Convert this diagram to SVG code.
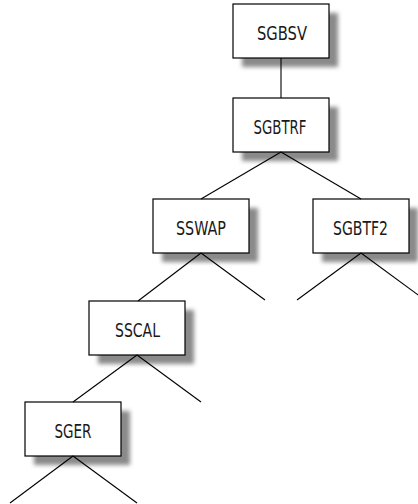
<svg xmlns="http://www.w3.org/2000/svg" width="418" height="504" viewBox="0 0 418 504">
<defs>
<filter id="sh" x="-20%" y="-20%" width="150%" height="160%">
<feGaussianBlur stdDeviation="2.2"/>
</filter>
</defs>
<style>
.shadow{fill:#8a8a8a;filter:url(#sh)}
.box{fill:#fff;stroke:#000;stroke-width:1.2}
.lbl{font-family:"DejaVu Sans Condensed","Liberation Sans Narrow","Liberation Sans",sans-serif;font-size:20px;fill:#1a1a1a;text-anchor:middle}
.edge{stroke:#000;stroke-width:1.1;fill:none}
</style>
<rect width="418" height="504" fill="#fff"/>
<g id="SGBSV"><rect class="shadow" x="242" y="13" width="96" height="54"/><rect class="box" x="233" y="4" width="96" height="54"/><text class="lbl" x="282" y="39.5" textLength="50" lengthAdjust="spacingAndGlyphs">SGBSV</text></g>
<g id="SGBTRF"><rect class="shadow" x="242" y="107" width="96" height="54"/><rect class="box" x="233" y="98" width="96" height="54"/><text class="lbl" x="280" y="133.5" textLength="53" lengthAdjust="spacingAndGlyphs">SGBTRF</text></g>
<g id="SSWAP"><rect class="shadow" x="162" y="208" width="96" height="54"/><rect class="box" x="153" y="199" width="96" height="54"/><text class="lbl" x="201" y="234.5" textLength="50" lengthAdjust="spacingAndGlyphs">SSWAP</text></g>
<g id="SGBTF2"><rect class="shadow" x="322" y="208" width="96" height="54"/><rect class="box" x="313" y="199" width="96" height="54"/><text class="lbl" x="360.5" y="234.5" textLength="55" lengthAdjust="spacingAndGlyphs">SGBTF2</text></g>
<g id="SSCAL"><rect class="shadow" x="98" y="310" width="96" height="54"/><rect class="box" x="89" y="301" width="96" height="54"/><text class="lbl" x="137.5" y="336.5" textLength="45" lengthAdjust="spacingAndGlyphs">SSCAL</text></g>
<g id="SGER"><rect class="shadow" x="34" y="411" width="96" height="54"/><rect class="box" x="25" y="402" width="96" height="54"/><text class="lbl" x="73" y="437.5" textLength="37" lengthAdjust="spacingAndGlyphs">SGER</text></g>
<g id="connectors">
<line class="edge" x1="281" y1="58" x2="281" y2="98"/>
<line class="edge" x1="281" y1="152" x2="201" y2="199"/>
<line class="edge" x1="281" y1="152" x2="361" y2="199"/>
<line class="edge" x1="201" y1="253" x2="138" y2="301"/>
<line class="edge" x1="201" y1="253" x2="265" y2="300"/>
<line class="edge" x1="361" y1="253" x2="297" y2="300"/>
<line class="edge" x1="361" y1="253" x2="425" y2="300"/>
<line class="edge" x1="137" y1="355" x2="73" y2="402"/>
<line class="edge" x1="137" y1="355" x2="201" y2="402"/>
<line class="edge" x1="73" y1="456" x2="10" y2="503"/>
<line class="edge" x1="73" y1="456" x2="137" y2="503"/>
</g>
</svg>
